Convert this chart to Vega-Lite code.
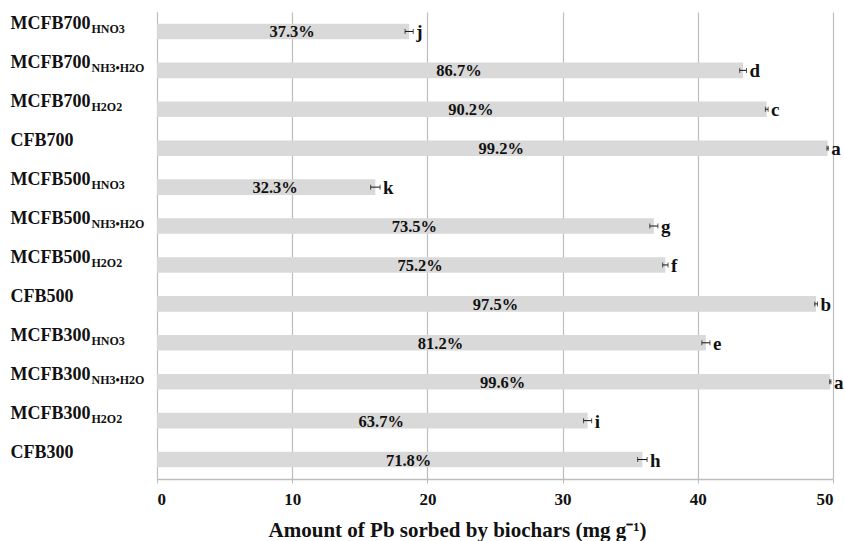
{
  "$schema": "https://vega.github.io/schema/vega-lite/v6.json",
  "width": 676,
  "height": 467,
  "autosize": "none",
  "padding": {"left": 157, "top": 12, "right": 11, "bottom": 62},
  "config": {"view": {"stroke": null}, "font": "Liberation Serif"},
  "data": {
    "values": [
      {"sample": "MCFB700 HNO3", "value": 18.65, "err": 0.3, "pct": "37.3%", "letter": "j"},
      {"sample": "MCFB700 NH3•H2O", "value": 43.35, "err": 0.25, "pct": "86.7%", "letter": "d"},
      {"sample": "MCFB700 H2O2", "value": 45.1, "err": 0.1, "pct": "90.2%", "letter": "c"},
      {"sample": "CFB700", "value": 49.6, "err": 0.05, "pct": "99.2%", "letter": "a"},
      {"sample": "MCFB500 HNO3", "value": 16.15, "err": 0.35, "pct": "32.3%", "letter": "k"},
      {"sample": "MCFB500 NH3•H2O", "value": 36.75, "err": 0.3, "pct": "73.5%", "letter": "g"},
      {"sample": "MCFB500 H2O2", "value": 37.6, "err": 0.2, "pct": "75.2%", "letter": "f"},
      {"sample": "CFB500", "value": 48.75, "err": 0.1, "pct": "97.5%", "letter": "b"},
      {"sample": "MCFB300 HNO3", "value": 40.6, "err": 0.3, "pct": "81.2%", "letter": "e"},
      {"sample": "MCFB300 NH3•H2O", "value": 49.8, "err": 0.05, "pct": "99.6%", "letter": "a"},
      {"sample": "MCFB300 H2O2", "value": 31.85, "err": 0.3, "pct": "63.7%", "letter": "i"},
      {"sample": "CFB300", "value": 35.9, "err": 0.35, "pct": "71.8%", "letter": "h"}
    ]
  },
  "transform": [
    {"calculate": "datum.value / 2", "as": "mid"},
    {"calculate": "datum.value + datum.err", "as": "hi"}
  ],
  "resolve": {"axis": {"y": "independent"}},
  "layer": [
    {
      "mark": {"type": "bar", "color": "#d9d9d9"},
      "encoding": {
        "y": {
          "field": "sample", "type": "nominal", "sort": null,
          "scale": {"paddingInner": 0.6, "paddingOuter": 0.3},
          "axis": {
            "orient": "left", "title": null, "ticks": false,
            "domain": true, "domainColor": "#bdbdbd",
            "labelExpr": "split(datum.label, ' ')[0]",
            "labelAlign": "left", "labelPadding": 147, "labelOffset": -7,
            "labelFont": "Liberation Serif", "labelFontWeight": "bold",
            "labelFontSize": 18, "labelColor": "#111111", "labelBaseline": "middle"
          }
        },
        "x": {
          "field": "value", "type": "quantitative",
          "title": "Amount of Pb sorbed by biochars (mg g⁻¹)",
          "scale": {"domain": [0, 50], "nice": false},
          "axis": {
            "values": [0, 10, 20, 30, 40, 50],
            "grid": true, "gridColor": "#bdbdbd", "gridWidth": 1.2,
            "domainColor": "#bdbdbd", "domainWidth": 1.5,
            "tickColor": "#bdbdbd", "tickSize": 4,
            "labelFont": "Liberation Serif", "labelFontWeight": "bold",
            "labelFontSize": 17, "labelColor": "#111111", "labelPadding": 8,
            "titleFont": "Liberation Serif", "titleFontWeight": "bold",
            "titleFontSize": 21, "titleColor": "#111111", "titlePadding": 12,
            "titleX": 300, "titleAlign": "center"
          }
        }
      }
    },
    {
      "mark": {"type": "errorbar", "ticks": {"size": 5, "color": "#111111"}, "rule": {"color": "#111111"}, "thickness": 1},
      "encoding": {
        "y": {"field": "sample", "type": "nominal", "sort": null, "axis": null},
        "x": {"field": "value", "type": "quantitative", "title": "Amount of Pb sorbed by biochars (mg g⁻¹)"},
        "xError": {"field": "err"}
      }
    },
    {
      "mark": {"type": "text", "font": "Liberation Serif", "fontWeight": "bold", "fontSize": 16.5, "color": "#111111", "baseline": "middle", "dx": 9, "dy": 1},
      "encoding": {
        "y": {"field": "sample", "type": "nominal", "sort": null, "axis": null},
        "x": {"field": "mid", "type": "quantitative", "title": "Amount of Pb sorbed by biochars (mg g⁻¹)"},
        "text": {"field": "pct"}
      }
    },
    {
      "mark": {"type": "text", "font": "Liberation Serif", "fontWeight": "bold", "fontSize": 19, "color": "#111111", "baseline": "middle", "align": "left", "dx": 3, "dy": 1},
      "encoding": {
        "y": {"field": "sample", "type": "nominal", "sort": null, "axis": null},
        "x": {"field": "hi", "type": "quantitative", "title": "Amount of Pb sorbed by biochars (mg g⁻¹)"},
        "text": {"field": "letter"}
      }
    },
    {
      "mark": {"type": "bar", "opacity": 0},
      "encoding": {
        "y": {
          "field": "sample", "type": "nominal", "sort": null,
          "axis": {
            "orient": "left", "title": null, "ticks": false, "domain": false,
            "labelExpr": "indexof(datum.label, ' ') > 0 ? split(datum.label, ' ')[1] : ''",
            "labelAlign": "left", "labelPadding": 66, "labelOffset": -2,
            "labelFont": "Liberation Serif", "labelFontWeight": "bold",
            "labelFontSize": 12, "labelColor": "#111111", "labelBaseline": "middle"
          }
        },
        "x": {"field": "value", "type": "quantitative", "title": "Amount of Pb sorbed by biochars (mg g⁻¹)"}
      }
    }
  ]
}
